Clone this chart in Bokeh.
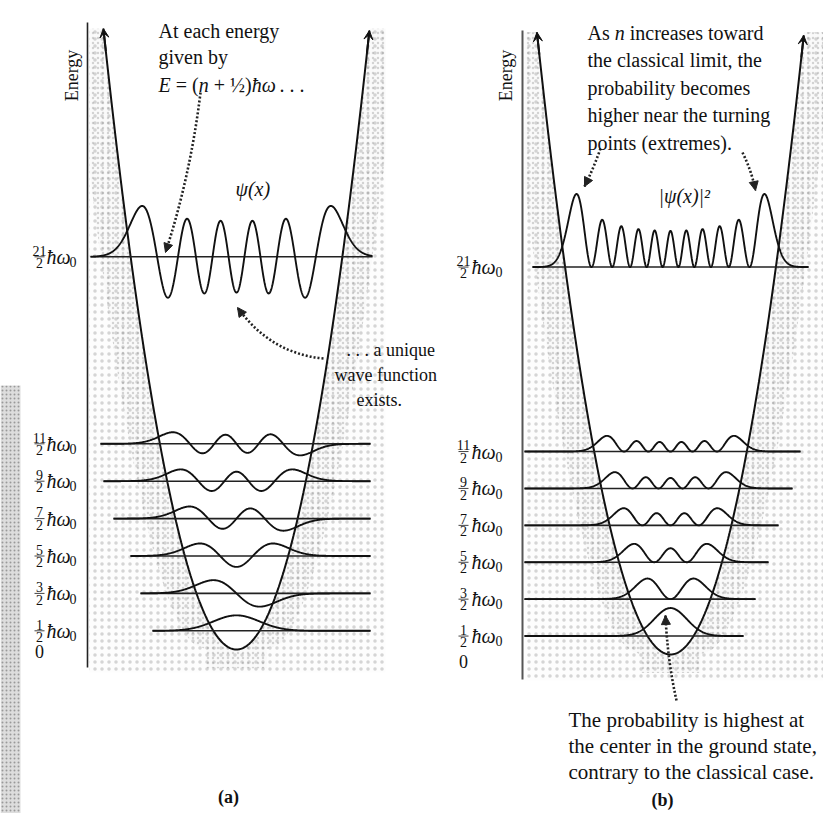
import numpy as np
from bokeh.plotting import figure
from bokeh.layouts import row
from bokeh.models import Range1d, Arrow, NormalHead, VeeHead, Label
from bokeh.core.properties import value
from bokeh.embed import file_html
from bokeh.resources import INLINE

# ---------------- data ----------------
low_n = [0, 1, 2, 3, 4, 5]            # quantum numbers of the lower levels
high_n = 10                            # the high level, E = 21/2 hbar w0
level_num = ["1", "3", "5", "7", "9", "11"]
high_num = "21"
level_den = "2"
unit_text = "ħω"
unit_sub = "0"
zero_text = "0"

top_a = ["At each energy", "given by"]
eq_parts = [("E", "italic"), ("= (", "normal"), ("n", "italic"), ("+ ½)", "normal"),
            ("ħω", "italic"), (". . .", "normal")]
mid_a = [". . . a unique", "wave function", "exists."]
top_b_first = [("As", "normal"), ("n", "italic"), ("increases toward", "normal")]
top_b = ["the classical limit, the", "probability becomes", "higher near the turning",
         "points (extremes)."]
bot_b = ["The probability is highest at", "the center in the ground state,",
         "contrary to the classical case."]
psi_label = "ψ(x)"
prob_label = "|ψ(x)|²"
axis_label = "Energy"
panel_labels = ["(a)", "(b)"]

FONT = "Liberation Serif"
INK = "#111111"


def psi(n, xi):
    """Harmonic-oscillator eigenfunction (Hermite function)."""
    p0 = np.pi ** -0.25 * np.exp(-xi ** 2 / 2)
    if n == 0:
        return p0
    p1 = np.sqrt(2.0) * xi * p0
    for k in range(1, n):
        p0, p1 = p1, np.sqrt(2.0 / (k + 1)) * xi * p1 - np.sqrt(k / (k + 1)) * p0
    return p1


# ---------------- layout ----------------
TOT_W, H = 823, 813
W1 = 455
W2 = TOT_W - W1
# panel a: picture px -> data units (xi, E in units of hbar w0)
SXA, CXA, SYA, E0A = 23.1, 236.0, 37.4, 649.0
# panel b
SXB, CXB, SYB, E0B = 23.0, 670.0, 36.9, 654.0


def A(px, py):
    return (px - CXA) / SXA, (E0A - py) / SYA


def B(px, py):
    return (px - CXB) / SXB, (E0B - py) / SYB


def make_fig(width, xr, yr):
    p = figure(width=width, height=H, x_range=Range1d(*xr), y_range=Range1d(*yr),
               output_backend="svg", toolbar_location=None, min_border=0)
    p.axis.visible = False
    p.grid.visible = False
    p.outline_line_color = None
    p.background_fill_color = "white"
    p.border_fill_color = "white"
    return p


pa = make_fig(W1, ((0 - CXA) / SXA, (W1 - CXA) / SXA), ((E0A - H) / SYA, E0A / SYA))
pb = make_fig(W2, ((W1 - CXB) / SXB, (TOT_W - CXB) / SXB), ((E0B - H) / SYB, E0B / SYB))


def shade(p, x_left, x_right, e_top, e_bot):
    xt = np.sqrt(2 * e_top)
    xi = np.linspace(-xt, xt, 200)
    xs = [x_left, x_left] + list(xi) + [x_right, x_right]
    ys = [e_bot, e_top] + list(xi ** 2 / 2) + [e_top, e_bot]
    p.patch(xs, ys, fill_color="#c0c0c0", fill_alpha=0.04, line_color=None,
            hatch_pattern="dot", hatch_color="#8a8a8a", hatch_scale=7, hatch_weight=1,
            hatch_alpha=0.35)
    # denser stipple hugging the parabola
    d = 1.3
    es = np.linspace(e_top, 0, 120)
    left_out_x = list(-(np.sqrt(2 * es) + d))
    right_out_x = list(np.sqrt(2 * es[::-1]) + d)
    bx = (left_out_x + [-d, d] + right_out_x + list(np.sqrt(2 * es)) +
          list(-np.sqrt(2 * es[::-1])))
    by = (list(es) + [max(-0.5, e_bot), max(-0.5, e_bot)] + list(es[::-1]) + list(es) +
          list(es[::-1]))
    bx = [min(max(v, x_left), x_right) for v in bx]
    p.patch(bx, by, fill_color="#aaaaaa", fill_alpha=0.03, line_color=None,
            hatch_pattern="dot", hatch_color="#707070", hatch_scale=5, hatch_weight=1,
            hatch_alpha=0.28)


def tick_labels(p, cx_frac, x_unit, x_sub, energies, nums, sp_x):
    for e, num in zip(energies, nums):
        p.text(x=[cx_frac], y=[e + 0.03], text=[num], text_font=value(FONT),
               text_font_size="14px", text_align="center", text_baseline="bottom",
               text_color=INK)
        p.text(x=[cx_frac], y=[e - 0.03], text=[level_den], text_font=value(FONT),
               text_font_size="14px", text_align="center", text_baseline="top",
               text_color=INK)
        p.segment(x0=[cx_frac - sp_x], x1=[cx_frac + sp_x], y0=[e], y1=[e],
                  line_color=INK, line_width=0.8)
        p.text(x=[x_unit], y=[e], text=[unit_text], text_font=value(FONT),
               text_font_size="20px", text_font_style="italic", text_align="left",
               text_baseline="middle", text_color=INK)
        p.text(x=[x_sub], y=[e - 0.14], text=[unit_sub], text_font=value(FONT),
               text_font_size="14px", text_align="left", text_baseline="middle",
               text_color=INK)


def dotted_arrow(p, conv, s, c, e):
    x0, y0 = conv(*s)
    cx, cy = conv(*c)
    x1, y1 = conv(*e)
    p.quadratic(x0=[x0], y0=[y0], x1=[x1], y1=[y1], cx=[cx], cy=[cy],
                line_color="#222222", line_width=2.6, line_dash="2 2")
    xs, ys = x1 - 0.15 * (x1 - cx), y1 - 0.15 * (y1 - cy)
    p.add_layout(Arrow(x_start=xs, y_start=ys, x_end=x1, y_end=y1, line_alpha=0,
                       end=NormalHead(size=9, fill_color="#222222", line_color="#222222")))


def label(p, conv, px, py, text, size="20px", style="normal", align="left",
          baseline="alphabetic", angle=0.0):
    x, y = conv(px, py)
    p.add_layout(Label(x=x, y=y, text=text, text_font=FONT, text_font_size=size,
                       text_font_style=style, text_align=align, text_baseline=baseline,
                       text_color=INK, angle=angle))


def parabola(p, e_left, e_right):
    xl, xr = -np.sqrt(2 * e_left), np.sqrt(2 * e_right)
    xi = np.linspace(xl, xr, 400)
    p.line(xi, xi ** 2 / 2, line_color=INK, line_width=2)
    for sgn, et in ((-1, e_left), (1, e_right)):
        e0 = et - 0.6
        p.add_layout(Arrow(x_start=sgn * np.sqrt(2 * e0), y_start=e0,
                           x_end=sgn * np.sqrt(2 * et), y_end=et, line_color=INK,
                           line_width=2,
                           end=VeeHead(size=9, fill_color=INK, line_color=INK)))


# ================= panel (a) =================
ax_x = A(87, 0)[0]
shade(pa, ax_x + 0.08, A(385, 0)[0], 16.6, A(0, 672)[1])
# gutter strip of the scan
gx0, gy0 = A(0, 813)
gx1, gy1 = A(20, 385)
pa.quad(left=gx0, right=gx1, bottom=gy0, top=gy1, fill_color="#b4b4b4", fill_alpha=0.45,
        line_color=None, hatch_pattern="dot", hatch_color="#555555", hatch_scale=4,
        hatch_alpha=0.5)

pa.segment(x0=[ax_x], x1=[ax_x], y0=[A(0, 667)[1]], y1=[A(0, 22)[1]],
           line_color="#222222", line_width=1.6)
parabola(pa, 16.6, 16.55)

left_a = [A(px, 0)[0] for px in (152, 140, 130, 113, 103, 100)]
right_a = A(370, 0)[0]
amp_a = 0.55
for n, xl in zip(low_n, left_a):
    e = n + 0.5
    pa.segment(x0=[xl], x1=[right_a], y0=[e], y1=[e], line_color="#222222", line_width=1.6)
    xi = np.linspace(xl, right_a, 500)
    pa.line(xi, e + amp_a * (-1) ** n * psi(n, xi), line_color=INK, line_width=1.9)

eh = high_n + 0.5
xl_h, xr_h = A(90, 0)[0], A(372, 0)[0]
pa.segment(x0=[xl_h], x1=[xr_h], y0=[eh], y1=[eh], line_color="#222222", line_width=1.6)
xi = np.linspace(xl_h, xr_h, 1200)
ph = psi(high_n, xi)
pa.line(xi, eh + (-1) ** high_n * ph / np.abs(ph).max() * 1.36, line_color=INK, line_width=1.9)

tick_labels(pa, A(39, 0)[0], A(46, 0)[0], A(69, 0)[0],
            [n + 0.5 for n in low_n] + [eh], level_num + [high_num], 5 / SXA)
label(pa, A, 39, 651, zero_text, size="18px", align="center", baseline="middle")

label(pa, A, 71, 75, axis_label, size="18px", align="center", baseline="middle",
      angle=np.pi / 2)
label(pa, A, 158, 30, top_a[0])
label(pa, A, 158, 56, top_a[1])
# equation line, piece by piece (Times metrics, 20px)
for (txt, sty), off in zip(eq_parts, [0, 17.2, 40.2, 55.2, 93.2, 121.0]):
    label(pa, A, 158 + off, 84, txt, style=sty)
label(pa, A, 235, 188, psi_label, style="italic")
label(pa, A, 346, 349, mid_a[0], size="18px")
label(pa, A, 334, 374, mid_a[1], size="18px")
label(pa, A, 356, 399, mid_a[2], size="18px")
label(pa, A, 228, 796, panel_labels[0], size="18px", style="bold", align="center",
      baseline="middle")

dotted_arrow(pa, A, (200, 92), (190, 175), (165, 252))
dotted_arrow(pa, A, (323, 358), (270, 353), (237, 307))

# ================= panel (b) =================
bx_x = B(522, 0)[0]
shade(pb, bx_x + 0.08, B(823, 0)[0], 16.86, B(0, 680)[1])
pb.segment(x0=[bx_x], x1=[bx_x], y0=[B(0, 679)[1]], y1=[B(0, 30)[1]],
           line_color="#555555", line_width=2)
parabola(pb, 16.86, 16.78)

left_b = B(524, 0)[0]
right_b = [B(px, 0)[0] for px in (743, 755, 768, 778, 792, 800)]
amp_b = 1.345
for n, xr in zip(low_n, right_b):
    e = n + 0.5
    pb.segment(x0=[left_b], x1=[xr], y0=[e], y1=[e], line_color="#222222", line_width=1.6)
    xi = np.linspace(left_b, xr, 500)
    pb.line(xi, e + amp_b * psi(n, xi) ** 2, line_color=INK, line_width=1.9)

xl_h, xr_h = B(532, 0)[0], B(808, 0)[0]
pb.segment(x0=[xl_h], x1=[xr_h], y0=[eh], y1=[eh], line_color="#222222", line_width=1.6)
xi = np.linspace(xl_h, xr_h, 1200)
ph2 = psi(high_n, xi) ** 2
pb.line(xi, eh + ph2 / ph2.max() * 1.98, line_color=INK, line_width=1.9)

tick_labels(pb, B(463, 0)[0], B(471, 0)[0], B(495, 0)[0],
            [n + 0.5 for n in low_n] + [eh], level_num + [high_num], 5 / SXB)
label(pb, B, 463, 661, zero_text, size="18px", align="center", baseline="middle")

label(pb, B, 505, 75, axis_label, size="18px", align="center", baseline="middle",
      angle=np.pi / 2)
for (txt, sty), off in zip(top_b_first, [0, 27.2, 42.2]):
    label(pb, B, 587 + off, 32, txt, style=sty)
for i, t in enumerate(top_b):
    label(pb, B, 587, 59.5 + 27.5 * i, t)
label(pb, B, 658, 195, prob_label, style="italic")
for i, t in enumerate(bot_b):
    label(pb, B, 568, 719 + 26 * i, t, size="21px")
label(pb, B, 662, 799, panel_labels[1], size="18px", style="bold", align="center",
      baseline="middle")

dotted_arrow(pb, B, (600, 148), (593, 168), (584, 186))
dotted_arrow(pb, B, (742, 152), (751, 170), (755, 190))
dotted_arrow(pb, B, (676, 700), (667, 660), (665, 615))

layout = row(pa, pb)
open("out.html", "w").write(file_html(layout, INLINE))
